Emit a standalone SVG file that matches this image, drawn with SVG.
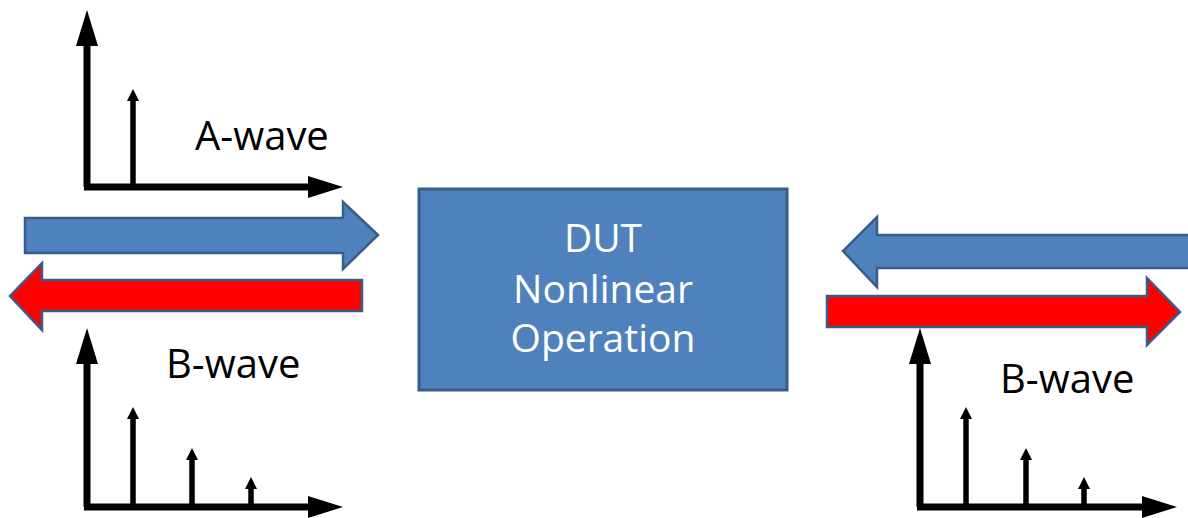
<svg xmlns="http://www.w3.org/2000/svg" width="1188" height="518" viewBox="0 0 1188 518">
  <style>
    .axis { stroke: #000; stroke-width: 7; fill: none; }
    .spike { stroke: #000; stroke-width: 5.5; fill: none; }
    .head { fill: #000; }
    .blue { fill: #4F81BD; stroke: #385D8A; stroke-width: 2.5; stroke-linejoin: miter; }
    .red { fill: #FF0000; stroke: #385D8A; stroke-width: 2.5; stroke-linejoin: miter; }
    .lbl { font-family: "Open Sans", "Liberation Sans", sans-serif; font-size: 40px; fill: #000; }
    .box-text { font-family: "Open Sans", "Liberation Sans", sans-serif; font-size: 39px; fill: #fff; text-anchor: middle; }
  </style>
  <rect width="1188" height="518" fill="#fff"/>

  <!-- wave arrows between the ports and the device -->
  <g id="connectors">
    <polygon class="blue" points="25,218 343,218 343,202 378,235 343,269 343,253 25,253"/>
    <polygon class="red" points="362,280 42,280 42,263 10,296 42,330 42,311 362,311"/>
    <polygon class="blue" points="1190,235 877,235 877,217 843,251 877,287 877,268 1190,268"/>
    <polygon class="red" points="827,296 1147,296 1147,278 1180,312 1147,345 1147,327 827,327"/>
  </g>

  <!-- incident spectrum -->
  <g id="a-wave-spectrum">
    <path class="axis" d="M87,187 V44 M84,187 H310"/>
    <polygon class="head" points="76,46 87,10 98,46"/>
    <polygon class="head" points="308,176 343,187 308,198"/>
    <path class="spike" d="M133,187 V99"/>
    <polygon class="head" points="127,101 133,89 139,101"/>
    <text class="lbl" x="195" y="150">A-wave</text>
  </g>

  <!-- reflected spectrum, input side -->
  <g id="b-wave-left">
    <path class="axis" d="M87,507 V362 M84,507 H310"/>
    <polygon class="head" points="76,364 87,328 98,364"/>
    <polygon class="head" points="308,496 343,507 308,518"/>
    <path class="spike" d="M133,507 V417 M192,507 V458 M251,507 V487"/>
    <polygon class="head" points="127,419 133,407 139,419"/>
    <polygon class="head" points="186,460 192,448 198,460"/>
    <polygon class="head" points="245,489 251,477 257,489"/>
    <text class="lbl" x="166" y="378">B-wave</text>
  </g>

  <!-- device under test -->
  <g id="dut">
    <rect x="419" y="189" width="368" height="201" fill="#4F81BD" stroke="#385D8A" stroke-width="3"/>
    <text class="box-text" x="603" y="252">DUT</text>
    <text class="box-text" x="603" y="303">Nonlinear</text>
    <text class="box-text" x="603" y="352">Operation</text>
  </g>

  <!-- reflected spectrum, output side -->
  <g id="b-wave-right">
    <path class="axis" d="M920,507 V362 M917,507 H1144"/>
    <polygon class="head" points="909,364 920,328 931,364"/>
    <polygon class="head" points="1142,496 1177,507 1142,518"/>
    <path class="spike" d="M966,507 V417 M1026,507 V458 M1084,507 V487"/>
    <polygon class="head" points="960,419 966,407 972,419"/>
    <polygon class="head" points="1020,460 1026,448 1032,460"/>
    <polygon class="head" points="1078,489 1084,477 1090,489"/>
    <text class="lbl" x="1000" y="393">B-wave</text>
  </g>
</svg>
